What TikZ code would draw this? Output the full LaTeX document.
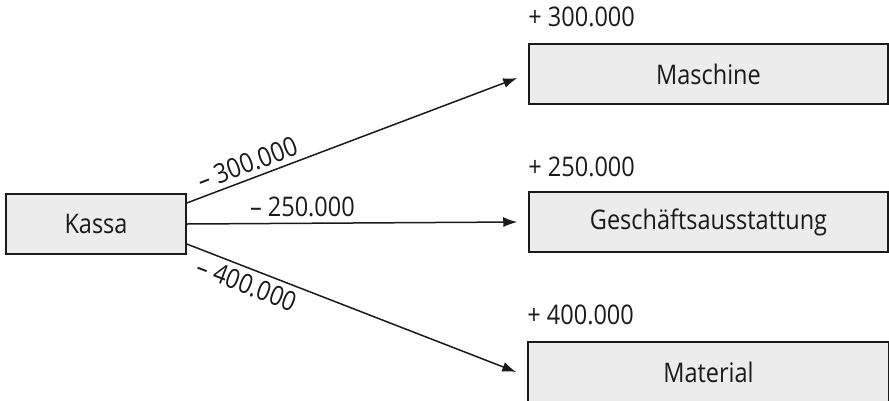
\documentclass[tikz,border=0pt]{standalone}
\usepackage{fontspec}
\setmainfont[FakeStretch=0.87]{Open Sans}
\usetikzlibrary{arrows.meta}
\definecolor{boxfill}{HTML}{ECECEC}
\definecolor{ink}{HTML}{1A1A1A}
\tikzset{
  acct/.style={draw=ink, fill=boxfill, line width=1.5pt, minimum height=60pt, inner sep=0pt, text=ink},
  flow/.style={draw=ink, line width=1.5pt, -{Latex[length=14pt,width=10pt]}},
  amt/.style={text=ink, inner sep=0pt},
}
\begin{document}
\begin{tikzpicture}[x=1pt,y=-1pt,font=\fontsize{27}{30}\selectfont]
\useasboundingbox (0,0) rectangle (889,400);
\node[acct, minimum width=180pt] (kassa) at (96,224) {Kassa};
\node[acct, minimum width=359pt] (masch) at (708.5,74) {Maschine};
\node[acct, minimum width=359pt] (gesch) at (708.5,222) {Geschäftsausstattung};
\node[acct, minimum width=361pt] (mat) at (708.5,372) {Material};

\node[amt, anchor=base west] (p1) at ([yshift=17pt]masch.north west) {+ 300.000};
\node[amt, anchor=base west] (p2) at ([yshift=15pt]gesch.north west) {+ 250.000};
\node[amt, anchor=base west] (p3) at ([yshift=17pt]mat.north west) {+ 400.000};

\draw[flow] ([yshift=21pt]kassa.east) -- node[amt, pos=0.2, sloped, above=5pt] (l1) {– 300.000} ([xshift=-11pt,yshift=-4pt]masch.west);
\draw[flow] (kassa.east) -- node[amt, pos=0.35, above=6pt] (l2) {– 250.000} ([xshift=-11pt]gesch.west);
\draw[flow] ([yshift=-20pt]kassa.east) -- node[amt, pos=0.2, sloped, below=5pt] (l3) {– 400.000} ([xshift=-11pt]mat.west);
\end{tikzpicture}
\end{document}
